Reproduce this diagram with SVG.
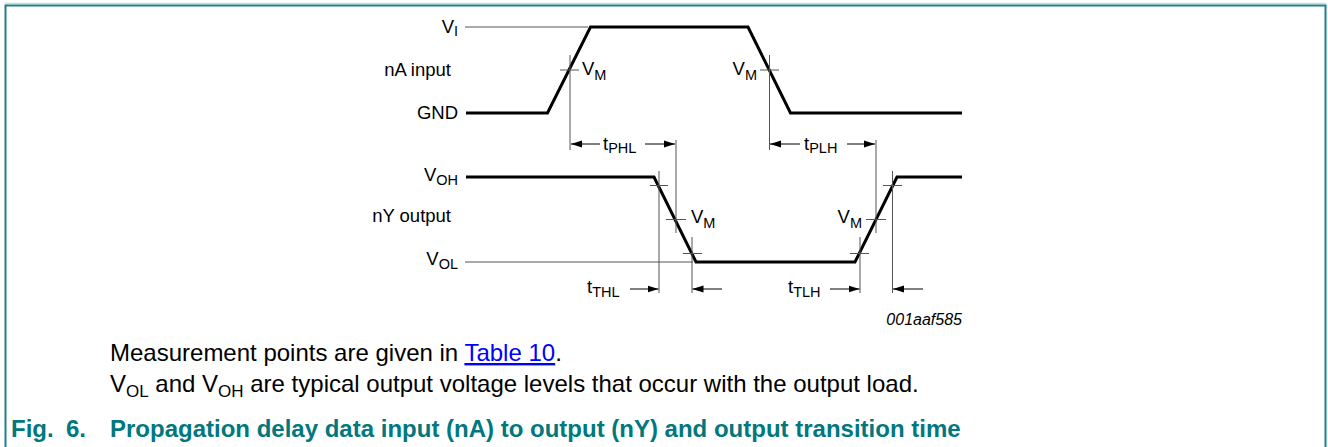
<svg xmlns="http://www.w3.org/2000/svg" width="1328" height="447" viewBox="0 0 1328 447">
<style>
text{font-family:"Liberation Sans",Arial,sans-serif;fill:#000}
.lbl{font-size:18.5px}
.sub{font-size:14.5px}
.wave{fill:none;stroke:#000;stroke-width:3;stroke-linejoin:miter}
.thin{fill:none;stroke:#555;stroke-width:1}
.arr{fill:none;stroke:#000;stroke-width:1;marker-end:url(#ah)}
.body{font-size:24px}
.cap{font-size:24px;font-weight:bold;fill:#00787e}
.frame{fill:none;stroke:#217f88;stroke-width:2}
</style>
<defs>
<marker id="ah" markerUnits="userSpaceOnUse" markerWidth="11" markerHeight="8" refX="11" refY="4" orient="auto">
<path d="M0,0.5 L11,4 L0,7.5 z" fill="#000"/>
</marker>
</defs>
<rect width="1328" height="447" fill="#fff"/>
<g id="frame">
<line x1="5" y1="3.5" x2="1326" y2="3.5" stroke="#c4dede" stroke-width="1.5"/>
<path class="frame" d="M5.5,447 V5.5 H1325.5 V447"/>
</g>
<g id="input-wave">
<path class="wave" d="M466,113 L547.5,113 L590.5,27 L748,27 L790.5,113 L962,113"/>
<line class="thin" x1="465" y1="27" x2="588" y2="27"/>
<text class="lbl" x="458" y="33" text-anchor="end">V<tspan class="sub" dy="3">I</tspan></text>
<text class="lbl" x="451" y="76" text-anchor="end">nA input</text>
<text class="lbl" x="458" y="119" text-anchor="end">GND</text>
</g>
<g id="output-wave">
<path class="wave" d="M466,177 L654,177 L696,262 L855,262 L897,177 L962,177"/>
<line class="thin" x1="465" y1="262" x2="693" y2="262"/>
<text class="lbl" x="458" y="181" text-anchor="end">V<tspan class="sub" dy="4">OH</tspan></text>
<text class="lbl" x="451" y="222" text-anchor="end">nY output</text>
<text class="lbl" x="458" y="265" text-anchor="end">V<tspan class="sub" dy="4">OL</tspan></text>
</g>
<g id="measure-lines">
<line class="thin" x1="570" y1="55" x2="570" y2="150"/>
<line class="thin" x1="769.5" y1="55" x2="769.5" y2="150"/>
<line class="thin" x1="676" y1="140" x2="676" y2="233"/>
<line class="thin" x1="876" y1="140" x2="876" y2="233"/>
<line class="thin" x1="659" y1="171" x2="659" y2="293"/>
<line class="thin" x1="692" y1="237" x2="692" y2="293"/>
<line class="thin" x1="860" y1="237" x2="860" y2="293"/>
<line class="thin" x1="892.5" y1="171" x2="892.5" y2="293"/>
<line class="thin" x1="560" y1="70" x2="579" y2="70"/>
<line class="thin" x1="760" y1="70" x2="779" y2="70"/>
<line class="thin" x1="650" y1="185.5" x2="668" y2="185.5"/>
<line class="thin" x1="883" y1="185.5" x2="902" y2="185.5"/>
<line class="thin" x1="666" y1="219.5" x2="686" y2="219.5"/>
<line class="thin" x1="866" y1="219.5" x2="886" y2="219.5"/>
<line class="thin" x1="683" y1="253.5" x2="702" y2="253.5"/>
<line class="thin" x1="850" y1="253.5" x2="869" y2="253.5"/>
</g>
<g id="vm-labels">
<text class="lbl" x="582" y="75">V<tspan class="sub" dy="5">M</tspan></text>
<text class="lbl" x="757" y="75" text-anchor="end">V<tspan class="sub" dy="5">M</tspan></text>
<text class="lbl" x="691" y="223">V<tspan class="sub" dy="5">M</tspan></text>
<text class="lbl" x="862" y="223" text-anchor="end">V<tspan class="sub" dy="5">M</tspan></text>
</g>
<g id="connectors">
<line class="arr" x1="600" y1="144" x2="571" y2="144"/>
<line class="arr" x1="645" y1="144" x2="675" y2="144"/>
<line class="arr" x1="800" y1="144" x2="770" y2="144"/>
<line class="arr" x1="847" y1="144" x2="875" y2="144"/>
<line class="arr" x1="630" y1="289" x2="658.5" y2="289"/>
<line class="arr" x1="722" y1="289" x2="692.5" y2="289"/>
<line class="arr" x1="830" y1="289" x2="859.5" y2="289"/>
<line class="arr" x1="923" y1="289" x2="893" y2="289"/>
</g>
<g id="timing-labels">
<text class="lbl" x="603" y="150">t<tspan class="sub" dy="3">PHL</tspan></text>
<text class="lbl" x="804" y="150">t<tspan class="sub" dy="3">PLH</tspan></text>
<text class="lbl" x="587" y="293">t<tspan class="sub" dy="4">THL</tspan></text>
<text class="lbl" x="788" y="293">t<tspan class="sub" dy="4">TLH</tspan></text>
<text x="962" y="325" text-anchor="end" font-size="16" font-style="italic">001aaf585</text>
</g>
<g id="notes">
<text class="body" x="110" y="361">Measurement points are given in <tspan fill="#0000ff" text-decoration="underline">Table 10</tspan>.</text>
<text class="body" x="110" y="392">V<tspan font-size="17" dy="5">OL</tspan><tspan dy="-5"> and V</tspan><tspan font-size="17" dy="5">OH</tspan><tspan dy="-5"> are typical output voltage levels that occur with the output load.</tspan></text>
<text class="cap" x="11" y="437">Fig.</text>
<text class="cap" x="66" y="437">6.</text>
<text class="cap" x="110" y="437">Propagation delay data input (nA) to output (nY) and output transition time</text>
</g>
</svg>
